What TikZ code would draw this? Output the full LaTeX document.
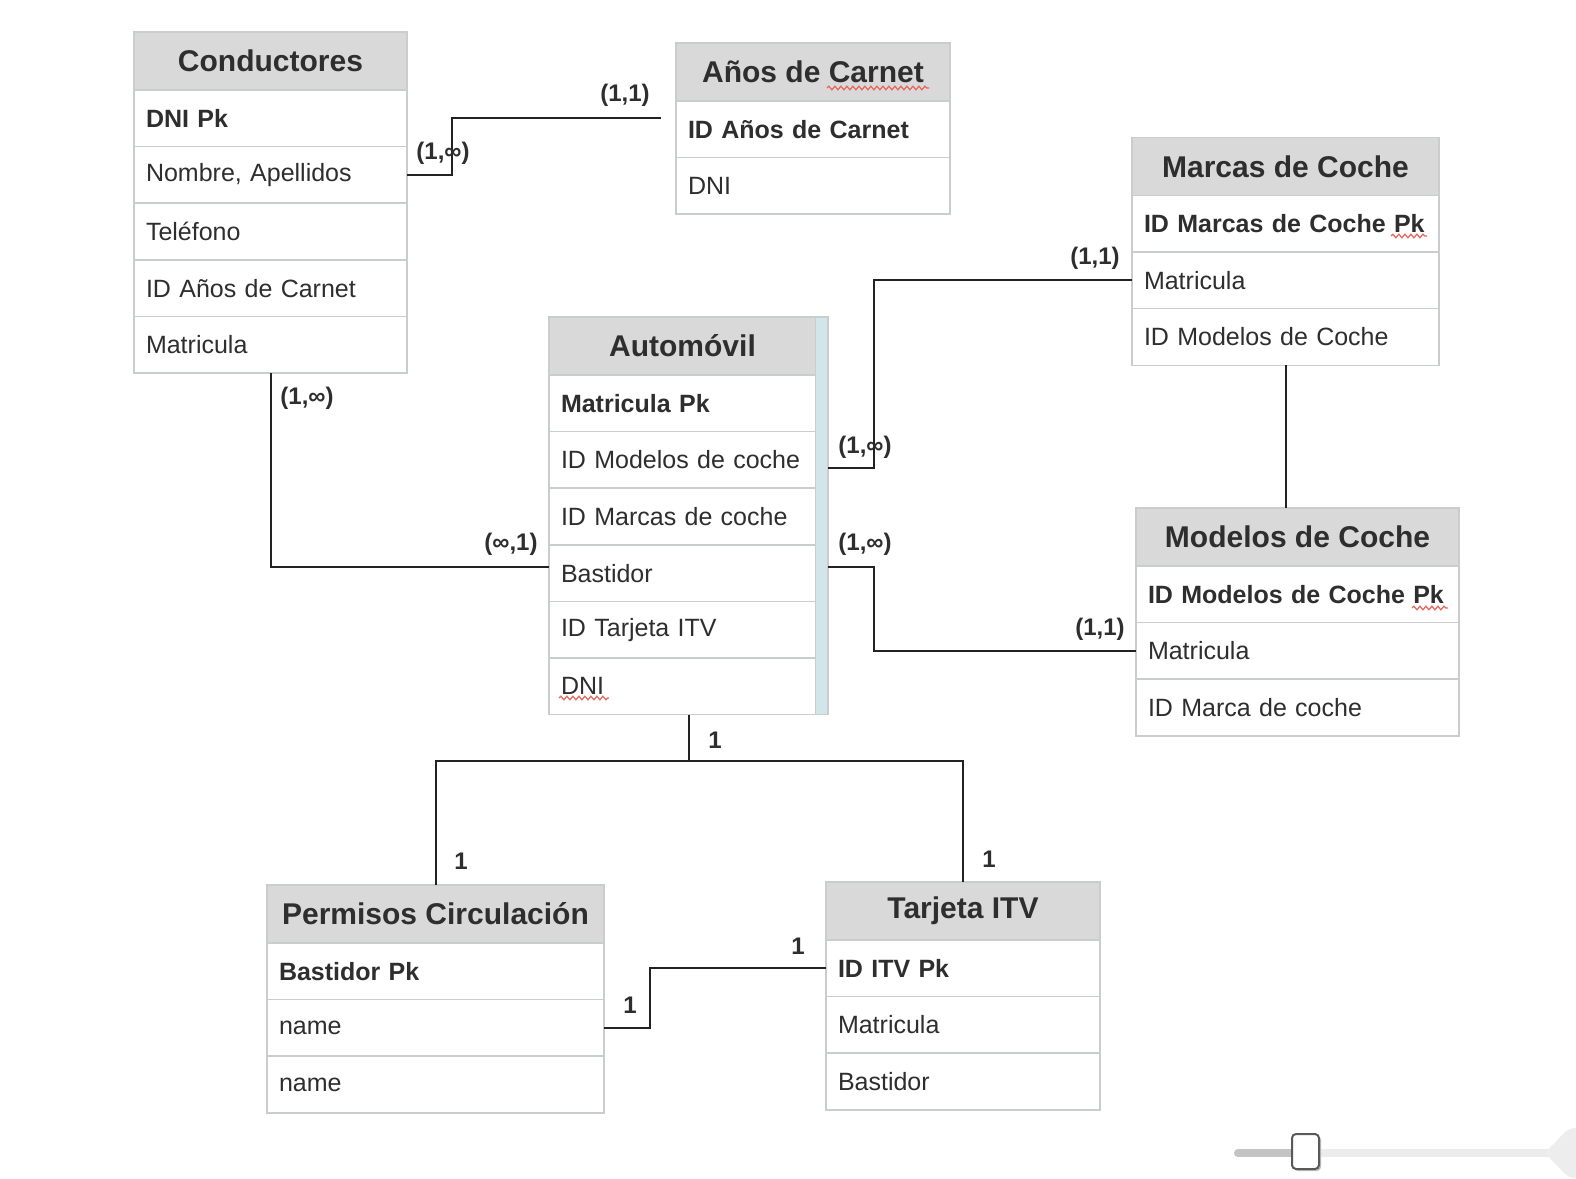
\documentclass[tikz,border=0pt]{standalone}
\usepackage{fontspec}
\setmainfont{Liberation Sans}
\usetikzlibrary{decorations.pathmorphing,calc}
\definecolor{hdrgray}{HTML}{D9D9D9}
\definecolor{linegray}{HTML}{C9CDCD}
\definecolor{txt}{HTML}{2E2E2E}
\definecolor{stripblue}{HTML}{D3E5E8}
\definecolor{conncol}{HTML}{222222}
\definecolor{spell}{HTML}{E8665C}
\tikzset{
 hdr/.style={rectangle, draw=linegray, line width=1.5pt, fill=hdrgray, minimum height=58pt, inner sep=0pt, outer sep=0pt, font=\fontsize{30}{34}\selectfont\bfseries, text=txt},
 rowbox/.style={rectangle, draw=linegray, line width=1.5pt, fill=white, minimum height=56.6pt, inner xsep=12pt, inner ysep=0pt, outer sep=0pt, font=\fontsize{25}{30}\selectfont, text=txt, align=left},
 connline/.style={draw=conncol, line width=2pt},
 card/.style={font=\fontsize{24}{28}\selectfont\bfseries, text=txt, inner sep=0pt},
 squig/.style={draw=spell, line width=1.2pt, decorate, decoration={snake, amplitude=1.8pt, segment length=6pt}},
}
\newcommand\ertable[6]{%
  \pgfmathsetmacro\ertw{#4-24}%
  \node[hdr, minimum width=#4pt, anchor=north west] (#1-0) at (#2,#3) {#5};
  \foreach \rowtxt [count=\i] in {#6} {
    \pgfmathtruncatemacro\j{\i-1}
    \node[rowbox, text width=\ertw pt, anchor=north] (#1-\i) at (#1-\j.south) {\rowtxt};
  }
}
\begin{document}
\begin{tikzpicture}[x=1pt,y=-1pt]
\useasboundingbox[fill=white] (0,0) rectangle (1576,1178);

% tables
\ertable{cond}{134}{32}{273}{Conductores}{\textbf{DNI Pk}, {Nombre, Apellidos}, Teléfono, ID Años de Carnet, Matricula}
\ertable{anos}{676}{43}{274}{Años de Carnet}{\textbf{ID Años de Carnet}, DNI}
\ertable{marc}{1132}{137.5}{307}{Marcas de Coche}{\textbf{ID Marcas de Coche Pk}, Matricula, ID Modelos de Coche}
\ertable{mod}{1136}{508}{323}{Modelos de Coche}{\textbf{ID Modelos de Coche Pk}, Matricula, ID Marca de coche}
\ertable{auto}{549}{317}{267}{Automóvil}{\textbf{Matricula Pk}, ID Modelos de coche, ID Marcas de coche, Bastidor, ID Tarjeta ITV, DNI}
\ertable{perm}{267}{885}{337}{Permisos Circulación}{\textbf{Bastidor Pk}, name, name}
\ertable{tarj}{826}{882}{274}{Tarjeta ITV}{\textbf{ID ITV Pk}, Matricula, Bastidor}

% blue strip of Automovil
\node[rectangle, fill=stripblue, draw=none, minimum width=12pt, minimum height=397.6pt, inner sep=0pt, outer sep=0pt, anchor=north west] (auto-s) at (auto-0.north east) {};
\draw[linegray, line width=1.5pt] (auto-0.north west) rectangle (auto-s.south east);

% spell-check squiggles
\draw[squig] (827,88) -- (929,88);
\draw[squig] (559,698) -- (609,698);
\draw[squig] (1391,236) -- (1427,236);
\draw[squig] (1412,608) -- (1448,608);

% connectors
\coordinate (anosend) at (661,118);
\draw[connline] (cond-2.east) -- ++(45,0) |- (anosend);
\draw[connline] (cond-5.south) |- ([yshift=6pt]auto-4.west);
\coordinate (a1) at ([yshift=-8pt]auto-s.east |- auto-2.center);
\coordinate (a2) at ([yshift=6pt]auto-s.east |- auto-4.center);
\draw[connline] (a1) -- ++(46,0) |- (marc-2.west);
\draw[connline] (a2) -- ++(46,0) |- (mod-2.west);
\draw[connline] (marc-3.south) -- (marc-3.south |- mod-0.north);
\coordinate (j) at (688.5,761);
\draw[connline] (auto-s.south -| j) -- (j);
\draw[connline] (perm-0.north) |- (j) -| (tarj-0.north);
\draw[connline] (perm-2.east) -- ++(46,0) |- (tarj-1.west);

% cardinalities
\node[card] (l1) at (625,95) {(1,1)};
\node[card] (l2) at (443,153) {(1,∞)};
\node[card] (l3) at (307,398) {(1,∞)};
\node[card] (l4) at (511,544) {(∞,1)};
\node[card] (l5) at (865,447) {(1,∞)};
\node[card] (l6) at (1095,258) {(1,1)};
\node[card] (l7) at (865,544) {(1,∞)};
\node[card] (l8) at (1100,629) {(1,1)};
\node[card] (l9) at (715,740) {1};
\node[card] (l10) at (461,861) {1};
\node[card] (l11) at (989,859) {1};
\node[card] (l12) at (630,1005) {1};
\node[card] (l13) at (798,946) {1};

% slider
\draw[line width=8pt, line cap=round, color=black!8] (1238,1153) -- (1550,1153);
\draw[line width=8pt, line cap=round, color=black!23] (1238,1153) -- (1300,1153);
\fill[black!7] (1545,1153) -- (1563,1134) to[out=45,in=180] (1576,1128) -- (1576,1178) to[out=180,in=-45] (1563,1172) -- cycle;
\fill[black!25, rounded corners=4pt] (1294,1136) rectangle (1321,1171);
\draw[fill=white, draw=black!65, line width=2pt, rounded corners=4pt] (1292,1134) rectangle (1319,1169);
\end{tikzpicture}
\end{document}
